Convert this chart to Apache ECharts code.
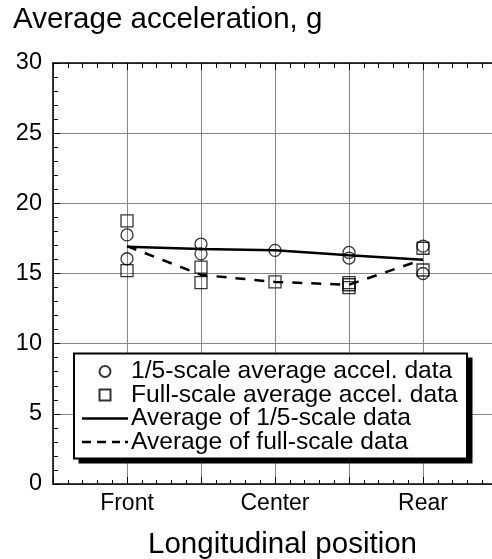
<!DOCTYPE html>
<html>
<head>
<meta charset="utf-8">
<script src="https://cdn.jsdelivr.net/npm/echarts@6/dist/echarts.min.js"></script>
<style>
html,body{margin:0;padding:0;background:#fff;}
#chart{width:492px;height:559px;}
</style>
</head>
<body>
<div id="chart"></div>
<script>
// Category positions (x) and tick labels
const positions = [1, 2, 3, 4, 5];
const tickLabels = {1: 'Front', 3: 'Center', 5: 'Rear'};

// 1/5-scale average accel. data (position, g)
const scaleX = [1, 1, 2, 2, 3, 4, 4, 5, 5];
const scaleY = [17.75, 16.05, 17.1, 16.4, 16.65, 16.5, 16.1, 16.95, 15.0];

// Full-scale average accel. data (position, g)
const fullX = [1, 1, 2, 2, 3, 4, 4, 4, 5, 5];
const fullY = [18.75, 15.2, 15.45, 14.35, 14.4, 14.35, 14.2, 14.0, 16.8, 15.25];

// Averages at each position
const avgScale = [16.9, 16.75, 16.65, 16.3, 15.98];
const avgFull = [16.95, 14.9, 14.4, 14.2, 16.0];

const names = [
  '1/5-scale average accel. data',
  'Full-scale average accel. data',
  'Average of 1/5-scale data',
  'Average of full-scale data'
];

const FONT = 'Liberation Sans';
const pairs = (xs, ys) => xs.map((x, i) => [x, ys[i]]);

const SQUARE_ICON = 'path://M0,0h10v10h-10z';
const SOLID_ICON = 'path://M0,0h46v2.6h-46z';
const DASH_ICON = 'path://M0,0h9v2.6h-9zM15,0h9v2.6h-9zM30,0h8v2.6h-8zM43,0h3v2.6h-3z';

const chart = echarts.init(document.getElementById('chart'), null, {renderer: 'canvas'});
chart.setOption({
  animation: false,
  backgroundColor: '#fff',
  title: {
    text: 'Average acceleration, g',
    left: 13, top: 5, padding: 0,
    textStyle: {fontFamily: FONT, fontSize: 29.5, fontWeight: 'normal', color: '#000'}
  },
  grid: {left: 53, top: 63, right: -5, bottom: 75, containLabel: false, outerBoundsMode: 'none'},
  xAxis: [{
    type: 'value', min: 0, max: 6, interval: 1, position: 'bottom',
    name: 'Longitudinal position', nameLocation: 'middle', nameGap: 46,
    nameTextStyle: {fontFamily: FONT, fontSize: 29.5, color: '#000', padding: [0, 0, 0, 15]},
    axisLine: {show: true, onZero: false, lineStyle: {color: '#000', width: 1.5}},
    axisTick: {show: true, inside: true, length: 7, lineStyle: {color: '#000', width: 1}},
    minorTick: {show: true, splitNumber: 5, length: 4, lineStyle: {color: '#000', width: 1}},
    axisLabel: {
      fontFamily: FONT, fontSize: 23, color: '#000', margin: 8,
      formatter: v => tickLabels[v] || ''
    },
    splitLine: {show: true, lineStyle: {color: '#858585', width: 1}}
  }, {
    type: 'value', min: 0, max: 6, interval: 1, position: 'top',
    axisLine: {show: true, onZero: false, lineStyle: {color: '#000', width: 1.5}},
    axisTick: {show: true, inside: true, length: 7, lineStyle: {color: '#000', width: 1}},
    minorTick: {show: true, splitNumber: 5, length: 5, lineStyle: {color: '#000', width: 1}},
    axisLabel: {show: false},
    splitLine: {show: false}
  }],
  yAxis: [{
    type: 'value', min: 0, max: 30, interval: 5,
    axisLine: {show: true, onZero: false, lineStyle: {color: '#000', width: 1.5}},
    axisTick: {show: true, inside: true, length: 7, lineStyle: {color: '#000', width: 1}},
    minorTick: {show: true, splitNumber: 5, length: 5, lineStyle: {color: '#000', width: 1}},
    axisLabel: {fontFamily: FONT, fontSize: 23.5, color: '#000', margin: 11, padding: [0, 0, 11, 0]},
    splitLine: {show: true, lineStyle: {color: '#858585', width: 1}}
  }],
  graphic: [{
    type: 'rect', z: 20, silent: true,
    shape: {x: 78.5, y: 357.5, width: 394, height: 106},
    style: {fill: '#000'}
  }, {
    type: 'rect', z: 21, silent: true,
    shape: {x: 74, y: 353.5, width: 393, height: 105},
    style: {fill: '#fff', stroke: '#000', lineWidth: 2}
  }],
  legend: {
    orient: 'vertical',
    left: 74, top: 352,
    z: 30,
    data: [
      {name: names[0], icon: 'circle'},
      {name: names[1], icon: SQUARE_ICON},
      {name: names[2], icon: SOLID_ICON},
      {name: names[3], icon: DASH_ICON}
    ],
    itemWidth: 46, itemHeight: 11, itemGap: -1.5,
    symbolKeepAspect: true,
    padding: [7, 12, 7, 8],
    textStyle: {fontFamily: FONT, fontSize: 24.6, color: '#000', lineHeight: 23, padding: [0, 0, 0, -2]},
    selectedMode: false
  },
  series: [{
    name: names[0], type: 'scatter', data: pairs(scaleX, scaleY),
    symbol: 'circle', symbolSize: 12, z: 5,
    itemStyle: {color: 'rgba(0,0,0,0)', borderColor: '#000', borderWidth: 1.3}
  }, {
    name: names[1], type: 'scatter', data: pairs(fullX, fullY),
    symbol: 'rect', symbolSize: 12, z: 5,
    itemStyle: {color: 'rgba(0,0,0,0)', borderColor: '#000', borderWidth: 1.3}
  }, {
    name: names[2], type: 'line', data: pairs(positions, avgScale),
    symbol: 'none', showSymbol: false, z: 4,
    itemStyle: {color: '#000'},
    lineStyle: {color: '#000', width: 2.5, type: 'solid'}
  }, {
    name: names[3], type: 'line', data: pairs(positions, avgFull),
    symbol: 'none', showSymbol: false, z: 4,
    itemStyle: {color: '#000'},
    lineStyle: {color: '#000', width: 2.5, type: [10, 9]}
  }]
});
</script>
</body>
</html>
